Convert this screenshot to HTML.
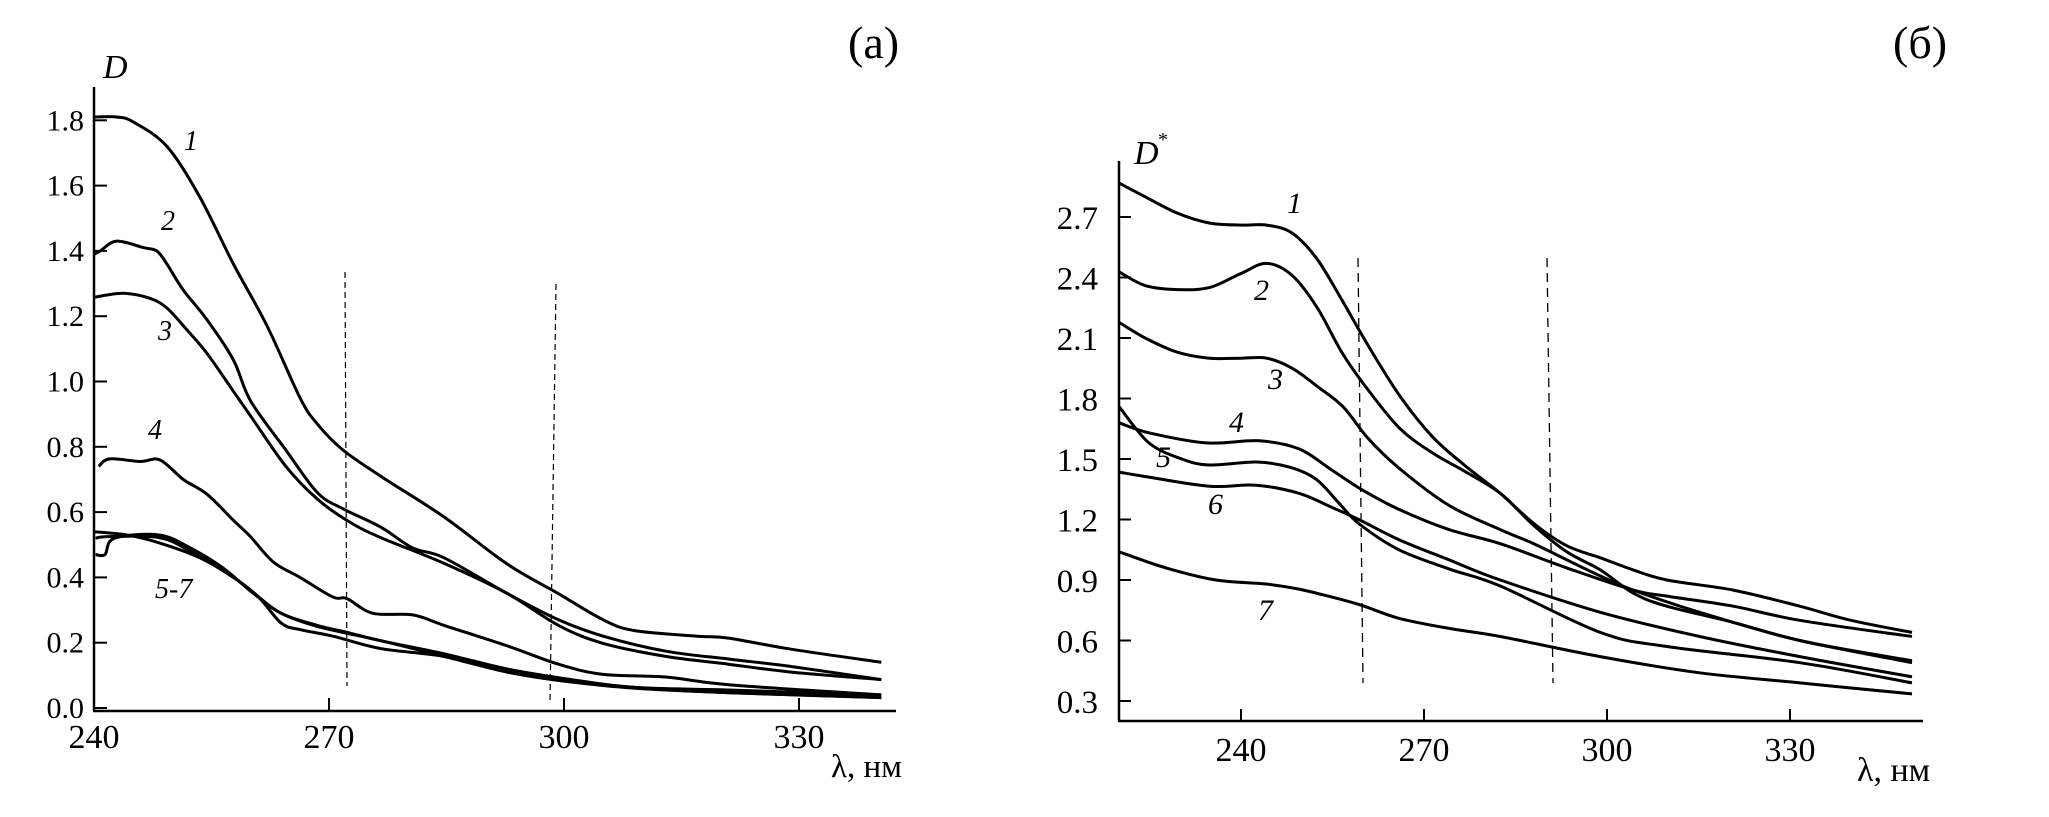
<!DOCTYPE html>
<html><head><meta charset="utf-8">
<style>
html,body{margin:0;padding:0;background:#fff;}
svg{display:block;}
text{font-family:"Liberation Serif",serif;fill:#000;}
.it{font-style:italic;}
</style></head>
<body>
<svg id="chart" width="2049" height="817" viewBox="0 0 2049 817" xmlns="http://www.w3.org/2000/svg">
<g id="pa"></g>
<g id="pb"></g>
</svg>
<script>
// ---------- Panel (a) data ----------
const aTicksX = [240, 270, 300, 330];
const aTicksY = [0.0, 0.2, 0.4, 0.6, 0.8, 1.0, 1.2, 1.4, 1.6, 1.8];
const aX1 = [240,242.9,245,249.3,253.5,257.8,262.1,266.3,268.5,271.8,276.6,284.7,292.8,299.3,305,309,317,321,329,340.5];
const aY1 = [1.81,1.81,1.795,1.72,1.565,1.36,1.17,0.95,0.87,0.79,0.71,0.585,0.44,0.35,0.27,0.237,0.22,0.214,0.18,0.14];
const aX2 = [240,240.8,242.9,246.3,248,249.3,251.4,254.4,257.8,260,264.5,268.5,271.8,276.6,280.7,284.7,292.8,299.3,305,313,321,329,340.5];
const aY2 = [1.39,1.40,1.43,1.41,1.40,1.36,1.28,1.19,1.066,0.94,0.79,0.66,0.61,0.554,0.49,0.46,0.35,0.27,0.22,0.174,0.15,0.127,0.087];
const aX3 = [240,243.7,247.1,249.3,251.8,254.4,257.8,260.4,264.5,268.5,272.6,276.6,284.7,292.8,299.3,305,313,321,329,340.5];
const aY3 = [1.258,1.27,1.255,1.225,1.16,1.087,0.97,0.88,0.74,0.64,0.57,0.522,0.443,0.35,0.253,0.198,0.158,0.134,0.11,0.087];
const aX4 = [240.6,242,245.9,248.4,251.4,254.4,257.8,260,262.9,266.3,270.5,272.3,275.6,280.7,284.7,292.8,299.3,305,313,321,340.5];
const aY4 = [0.74,0.763,0.755,0.76,0.70,0.655,0.575,0.524,0.447,0.40,0.34,0.335,0.29,0.285,0.253,0.19,0.134,0.103,0.095,0.071,0.04];
const aX5 = [240,244.2,248.3,253.5,257.8,261,263.9,266.3,270.5,276.6,284.7,292.8,300.9,309,321,340.5];
const aY5 = [0.54,0.53,0.506,0.46,0.40,0.34,0.26,0.24,0.22,0.182,0.158,0.11,0.08,0.063,0.047,0.032];
const aX6 = [240.2,241.4,242.6,248.3,252.3,256.4,260.4,263.9,268.5,272.6,276.6,284.7,292.8,300.9,309,321,340.5];
const aY6 = [0.47,0.47,0.52,0.53,0.49,0.43,0.35,0.29,0.253,0.23,0.206,0.166,0.119,0.087,0.063,0.055,0.04];
const aX7 = [240.2,241.8,248.3,252.3,257.8,261,263.9,268.5,276.6,284.7,292.8,300.9,313,340.5];
const aY7 = [0.52,0.525,0.522,0.48,0.40,0.34,0.29,0.25,0.206,0.158,0.11,0.08,0.055,0.032];

// ---------- Panel (b) data ----------
const bTicksX = [240, 270, 300, 330];
const bTicksY = [0.3, 0.6, 0.9, 1.2, 1.5, 1.8, 2.1, 2.4, 2.7];
const bX1 = [219.9,224.3,229.5,234.8,240,244.2,248.4,252.5,256.7,260.9,266.1,271.4,276.6,282.5,288,293.4,298.9,304.3,309.8,320.7,331.6,340,350];
const bY1 = [2.87,2.80,2.72,2.67,2.66,2.66,2.62,2.49,2.28,2.06,1.81,1.61,1.47,1.33,1.18,1.07,1.01,0.95,0.90,0.85,0.77,0.70,0.64];
const bX2 = [219.9,224.3,229.5,234.8,240,244.2,248.4,252.5,256.7,260.9,266.1,271.4,276.6,282.5,288,293.4,298.9,304.3,309.8,320.7,331.6,350];
const bY2 = [2.43,2.36,2.34,2.35,2.42,2.47,2.41,2.25,2.02,1.84,1.65,1.53,1.44,1.33,1.17,1.04,0.95,0.835,0.77,0.69,0.60,0.49];
const bX3 = [219.9,224.3,229.5,234.8,240,244.2,248.4,252.5,256.7,260.9,266.1,274.1,282.5,288,293.4,298.9,304.3,315.2,331.6,350];
const bY3 = [2.18,2.10,2.03,2.0,2.0,2.0,1.95,1.86,1.76,1.60,1.45,1.27,1.15,1.08,1.0,0.92,0.85,0.74,0.60,0.50];
const bX4 = [220,224.9,234.3,243,249.5,254.9,259.7,265.9,274.1,282.5,293.4,304.3,309.8,320.7,331.6,350];
const bY4 = [1.68,1.63,1.58,1.59,1.55,1.445,1.35,1.25,1.15,1.08,0.96,0.85,0.82,0.77,0.70,0.62];
const bX5 = [220,224.9,230.3,234.8,242.5,247.9,252.3,256.1,259.3,265.9,274.1,282.5,298.9,309.8,331.6,350];
const bY5 = [1.76,1.58,1.50,1.47,1.485,1.46,1.40,1.28,1.18,1.05,0.955,0.87,0.64,0.57,0.49,0.39];
const bX6 = [220,224.9,234.8,242.5,249.5,254.9,259.3,265.9,274.1,282.5,298.9,315.2,331.6,350];
const bY6 = [1.435,1.41,1.365,1.37,1.33,1.26,1.20,1.10,1.0,0.90,0.74,0.62,0.52,0.42];
const bX7 = [220,227.7,235.9,244.1,249.5,254.9,259.7,265.9,274.1,282.5,298.9,315.2,331.6,350];
const bY7 = [1.04,0.96,0.90,0.88,0.855,0.815,0.775,0.71,0.66,0.62,0.52,0.44,0.39,0.335];

const NS = "http://www.w3.org/2000/svg";
function mk(parent, tag, attrs) {
  const el = document.createElementNS(NS, tag);
  for (const k in attrs) el.setAttribute(k, attrs[k]);
  parent.appendChild(el);
  return el;
}
function smoothPath(pts) {
  let d = "M" + pts[0][0].toFixed(1) + "," + pts[0][1].toFixed(1);
  for (let i = 0; i < pts.length - 1; i++) {
    const p0 = pts[Math.max(0, i - 1)], p1 = pts[i], p2 = pts[i + 1], p3 = pts[Math.min(pts.length - 1, i + 2)];
    const c1x = p1[0] + (p2[0] - p0[0]) / 6, c1y = p1[1] + (p2[1] - p0[1]) / 6;
    const c2x = p2[0] - (p3[0] - p1[0]) / 6, c2y = p2[1] - (p3[1] - p1[1]) / 6;
    d += " C" + c1x.toFixed(1) + "," + c1y.toFixed(1) + " " + c2x.toFixed(1) + "," + c2y.toFixed(1) + " " + p2[0].toFixed(1) + "," + p2[1].toFixed(1);
  }
  return d;
}

// ---------- Panel (a) ----------
(function () {
  const g = document.getElementById("pa");
  const x0 = 94, xPerNm = 235 / 30, y0 = 708, yPerUnit = 65.3 / 0.2;
  const sx = v => x0 + (v - 240) * xPerNm;
  const sy = v => y0 - v * yPerUnit;
  let el;
  el = mk(g, "line", {x1: 94, y1: 87, x2: 94, y2: 711, stroke: "#000", "stroke-width": 2.5});
  
  
  el = mk(g, "line", {x1: 93, y1: 711, x2: 896, y2: 711, stroke: "#000", "stroke-width": 2.5});
  
  
  aTicksY.forEach(v => {
    const y = sy(v);
    const t = mk(g, "line", {x1: 94, y1: y, x2: 107, y2: y, stroke: "#000", "stroke-width": 2});
    
    
    const l = mk(g, "text", {x: 84, y: y + 10, "font-size": 30, "text-anchor": "end"});
    l.textContent = v.toFixed(1);
    
    
  });
  aTicksX.forEach(v => {
    const x = sx(v);
    if (v !== 240) {
      const t = mk(g, "line", {x1: x, y1: 711, x2: x, y2: 698, stroke: "#000", "stroke-width": 2});
      
      
    }
    const l = mk(g, "text", {x: x, y: 748, "font-size": 34, "text-anchor": "middle"});
    l.textContent = String(v);
    
    
  });
  el = mk(g, "line", {x1: 345, y1: 272, x2: 347, y2: 686, stroke: "#000", "stroke-width": 1.2, "stroke-dasharray": "6,4"});
  
  
  el = mk(g, "line", {x1: 556, y1: 284, x2: 550, y2: 702, stroke: "#000", "stroke-width": 1.2, "stroke-dasharray": "6,4"});
  
  
  const series = [[aX1, aY1], [aX2, aY2], [aX3, aY3], [aX4, aY4], [aX5, aY5], [aX6, aY6], [aX7, aY7]];
  series.forEach((s, i) => {
    const pts = s[0].map((x, j) => [sx(x), sy(s[1][j])]);
    const p = mk(g, "path", {d: smoothPath(pts), fill: "none", stroke: "#000", "stroke-width": 3, "stroke-linejoin": "round"});
    
    
  });
  const labels = [["1", 184, 150], ["2", 161, 230], ["3", 158, 340], ["4", 148, 439], ["5-7", 155, 598]];
  labels.forEach(L => {
    const t = mk(g, "text", {x: L[1], y: L[2], "font-size": 28, class: "it"});
    t.textContent = L[0];
    
    
  });
  el = mk(g, "text", {x: 103, y: 78, "font-size": 34, class: "it"});
  el.textContent = "D";
  
  
  el = mk(g, "text", {x: 831, y: 777, "font-size": 33});
  el.textContent = "λ, нм";
  
  
  el = mk(g, "text", {x: 848, y: 58, "font-size": 46});
  el.textContent = "(а)";
  
  
})();

// ---------- Panel (b) ----------
(function () {
  const g = document.getElementById("pb");
  const xPerNm = 183 / 30, y03 = 701, yPerUnit = 60.5 / 0.3;
  const sx = v => 1241 + (v - 240) * xPerNm;
  const sy = v => y03 - (v - 0.3) * yPerUnit;
  let el;
  el = mk(g, "line", {x1: 1119, y1: 161, x2: 1119, y2: 721, stroke: "#000", "stroke-width": 2.5});
  
  
  el = mk(g, "line", {x1: 1118, y1: 721, x2: 1923, y2: 721, stroke: "#000", "stroke-width": 2.5});
  
  
  bTicksY.forEach(v => {
    const y = sy(v);
    const t = mk(g, "line", {x1: 1119, y1: y, x2: 1131, y2: y, stroke: "#000", "stroke-width": 2});
    
    
    const l = mk(g, "text", {x: 1098, y: y + 12, "font-size": 33, "text-anchor": "end"});
    l.textContent = v.toFixed(1);
    
    
  });
  bTicksX.forEach(v => {
    const x = sx(v);
    const t = mk(g, "line", {x1: x, y1: 721, x2: x, y2: 709, stroke: "#000", "stroke-width": 2});
    
    
    const l = mk(g, "text", {x: x, y: 761, "font-size": 34, "text-anchor": "middle"});
    l.textContent = String(v);
    
    
  });
  el = mk(g, "line", {x1: 1358, y1: 258, x2: 1363, y2: 683, stroke: "#000", "stroke-width": 1.3, "stroke-dasharray": "9,6"});
  
  
  el = mk(g, "line", {x1: 1547, y1: 258, x2: 1553, y2: 683, stroke: "#000", "stroke-width": 1.3, "stroke-dasharray": "9,6"});
  
  
  const series = [[bX1, bY1], [bX2, bY2], [bX3, bY3], [bX4, bY4], [bX5, bY5], [bX6, bY6], [bX7, bY7]];
  series.forEach((s, i) => {
    const pts = s[0].map((x, j) => [sx(x), sy(s[1][j])]);
    const p = mk(g, "path", {d: smoothPath(pts), fill: "none", stroke: "#000", "stroke-width": 3, "stroke-linejoin": "round"});
    
    
  });
  const labels = [["1", 1287, 213], ["2", 1254, 300], ["3", 1268, 389], ["4", 1229, 432], ["5", 1156, 467], ["6", 1208, 514], ["7", 1258, 620]];
  labels.forEach(L => {
    const t = mk(g, "text", {x: L[1], y: L[2], "font-size": 30, class: "it"});
    t.textContent = L[0];
    
    
  });
  el = mk(g, "text", {x: 1134, y: 164, "font-size": 34, class: "it"});
  el.textContent = "D";
  
  
  el = mk(g, "text", {x: 1158, y: 146, "font-size": 20});
  el.textContent = "*";
  
  
  el = mk(g, "text", {x: 1857, y: 781, "font-size": 34});
  el.textContent = "λ, нм";
  
  
  el = mk(g, "text", {x: 1893, y: 58, "font-size": 46});
  el.textContent = "(б)";
  
  
})();
</script>
</body></html>
